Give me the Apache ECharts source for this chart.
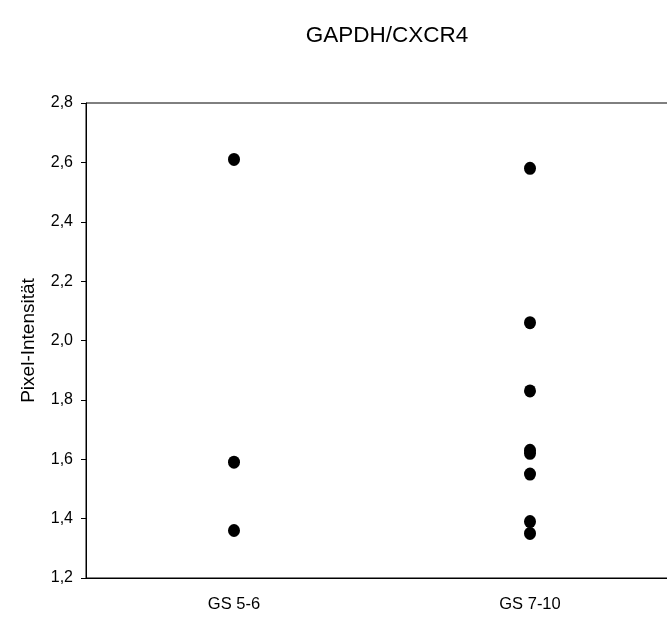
<!DOCTYPE html>
<html><head><meta charset="utf-8">
<script src="https://cdn.jsdelivr.net/npm/echarts@6/dist/echarts.min.js"></script>
<style>html,body{margin:0;padding:0;background:#fff;overflow:hidden;width:667px;height:617px}#c{width:678px;height:617px}</style>
</head><body><div id="c"></div>
<script>
const categories = ['GS 5-6', 'GS 7-10'];
const gs56 = [2.61, 1.59, 1.36];
const gs710 = [2.58, 2.06, 1.83, 1.63, 1.62, 1.55, 1.39, 1.35];
const yTicks = [1.2, 1.4, 1.6, 1.8, 2.0, 2.2, 2.4, 2.6, 2.8];

const points = [];
gs56.forEach(v => points.push([categories[0], v]));
gs710.forEach(v => points.push([categories[1], v]));

const chart = echarts.init(document.getElementById('c'), null, {renderer: 'canvas', width: 678, height: 617});
const font = 'Liberation Sans, Arial, sans-serif';
chart.setOption({
  animation: false,
  backgroundColor: '#fff',
  title: {
    text: 'GAPDH/CXCR4', left: 382, top: 19, textAlign: 'center',
    textStyle: {fontFamily: font, fontSize: 22.5, fontWeight: 'normal', color: '#000'}
  },
  grid: {left: 86, right: 0, top: 103, bottom: 39, show: true, borderColor: '#000', borderWidth: 1},
  xAxis: {
    type: 'category', data: categories, boundaryGap: true,
    axisLine: {lineStyle: {color: '#000', width: 1}},
    axisTick: {alignWithLabel: true, length: 5, lineStyle: {color: '#000'}},
    axisLabel: {fontFamily: font, fontSize: 16.5, color: '#000', margin: 18},
    splitLine: {show: false}
  },
  yAxis: {
    type: 'value', min: yTicks[0], max: yTicks[yTicks.length - 1], interval: 0.2,
    name: 'Pixel-Intensität', nameLocation: 'middle', nameGap: 48, nameRotate: 90,
    nameTextStyle: {fontFamily: font, fontSize: 19, color: '#000'},
    axisLine: {show: true, lineStyle: {color: '#000', width: 1}},
    axisTick: {show: true, length: 5, lineStyle: {color: '#000'}},
    axisLabel: {fontFamily: font, fontSize: 16, color: '#000', margin: 13,
      formatter: v => v.toFixed(1).replace('.', ',')},
    splitLine: {show: false}
  },
  series: [{
    type: 'scatter', data: points, symbol: 'circle', symbolSize: [12, 13],
    itemStyle: {color: '#000', opacity: 1}
  }]
});
</script></body></html>
